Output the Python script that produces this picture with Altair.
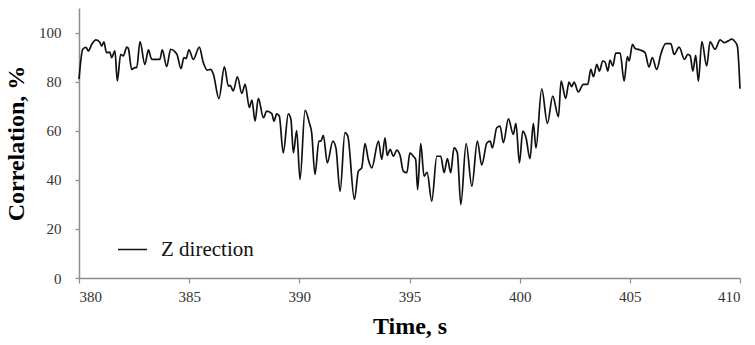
import altair as alt
import pandas as pd

time_s = [
    380.00, 380.17, 380.32, 380.42, 380.58, 380.77, 380.95, 381.03, 381.13, 381.25,
    381.40, 381.48, 381.63, 381.74, 381.89, 382.01, 382.17, 382.24, 382.39, 382.54,
    382.62, 382.77, 382.99, 383.15, 383.30, 383.45, 383.67, 383.78, 383.98, 384.16,
    384.36, 384.45, 384.63, 384.76, 384.86, 384.99, 385.19, 385.46, 385.64, 385.82,
    385.97, 386.10, 386.35, 386.60, 386.78, 386.86, 387.00, 387.19, 387.39, 387.54,
    387.73, 387.85, 387.99, 388.14, 388.37, 388.52, 388.75, 388.85, 388.97, 389.09,
    389.27, 389.50, 389.62, 389.73, 389.88, 390.03, 390.26, 390.45, 390.56, 390.71,
    390.89, 390.98, 391.09, 391.27, 391.52, 391.66, 391.85, 392.07, 392.20, 392.50,
    392.68, 392.83, 392.98, 393.13, 393.29, 393.59, 393.74, 393.89, 393.99, 394.12,
    394.27, 394.42, 394.57, 394.72, 394.88, 395.02, 395.17, 395.28, 395.37, 395.51,
    395.66, 395.80, 396.01, 396.24, 396.42, 396.57, 396.72, 396.87, 397.02, 397.17,
    397.33, 397.57, 397.83, 398.08, 398.28, 398.51, 398.66, 398.76, 398.96, 399.11,
    399.26, 399.49, 399.71, 399.83, 399.99, 400.14, 400.29, 400.47, 400.62, 400.74,
    401.00, 401.26, 401.50, 401.76, 401.88, 402.09, 402.24, 402.36, 402.47, 402.66,
    402.89, 403.09, 403.23, 403.35, 403.50, 403.62, 403.77, 403.88, 404.00, 404.10,
    404.23, 404.36, 404.56, 404.74, 404.89, 404.97, 405.12, 405.24, 405.47, 405.69,
    405.87, 406.02, 406.22, 406.42, 406.63, 406.86, 407.01, 407.24, 407.48, 407.63,
    407.74, 407.86, 407.99, 408.11, 408.27, 408.49, 408.64, 408.87, 409.10, 409.28,
    409.47, 409.62, 409.78, 409.88, 410.00,
]

correlation_pct = [
    81.0, 93.2, 94.0, 92.5, 95.2, 97.0, 95.9, 94.5, 96.2, 91.8,
    92.0, 89.8, 92.5, 80.3, 91.1, 90.5, 94.1, 93.5, 85.0, 85.7,
    85.7, 96.3, 87.0, 92.9, 89.1, 89.1, 89.1, 92.9, 86.1, 93.2,
    92.1, 91.0, 85.3, 89.8, 89.4, 92.9, 89.1, 94.1, 87.8, 84.7,
    85.0, 83.0, 73.1, 86.0, 78.2, 78.5, 76.2, 82.0, 75.2, 78.9,
    69.5, 72.5, 63.9, 73.2, 65.3, 68.0, 67.0, 63.9, 66.9, 66.0,
    51.0, 66.9, 64.6, 51.0, 60.1, 40.1, 68.3, 63.3, 59.2, 42.2,
    55.8, 55.8, 58.1, 46.9, 55.8, 53.0, 35.3, 59.2, 57.8, 32.0,
    43.5, 44.9, 54.8, 48.3, 44.9, 55.8, 48.3, 57.1, 49.9, 52.4,
    49.6, 52.1, 50.0, 43.5, 42.9, 51.0, 49.6, 48.3, 36.0, 54.8,
    41.5, 43.0, 31.3, 49.6, 49.6, 42.9, 48.6, 42.9, 53.0, 51.0,
    29.9, 54.8, 37.4, 55.8, 46.0, 55.0, 55.8, 53.0, 61.2, 61.9,
    55.1, 64.8, 58.5, 63.0, 46.9, 59.8, 57.0, 48.6, 63.0, 53.0,
    77.1, 63.0, 74.1, 65.7, 80.2, 73.2, 79.8, 78.0, 79.8, 75.8,
    78.9, 78.9, 85.0, 82.0, 87.0, 84.3, 88.4, 87.9, 84.3, 88.8,
    86.4, 91.6, 91.6, 80.2, 90.2, 88.4, 95.2, 93.5, 92.9, 91.8,
    86.0, 89.8, 85.0, 91.6, 95.5, 95.5, 91.1, 94.1, 89.1, 91.1,
    90.5, 84.3, 90.7, 80.2, 96.3, 86.4, 96.2, 93.2, 97.0, 95.9,
    96.6, 97.3, 96.2, 94.5, 77.1,
]

series_name = "Z direction"
x_ticks = [380, 385, 390, 395, 400, 405, 410]
y_ticks = [0, 20, 40, 60, 80, 100]

df = pd.DataFrame({"t": time_s, "c": correlation_pct, "s": series_name})

FONT = "Liberation Serif"

chart = (
    alt.Chart(df)
    .mark_line(interpolate="monotone", strokeWidth=1.7)
    .encode(
        x=alt.X(
            "t:Q",
            scale=alt.Scale(domain=[380, 410], nice=False, zero=False),
            axis=alt.Axis(
                title="Time, s",
                values=x_ticks,
                format="d",
                labelPadding=6,
                titlePadding=10,
                tickSize=5,
            ),
        ),
        y=alt.Y(
            "c:Q",
            scale=alt.Scale(domain=[0, 110], nice=False),
            axis=alt.Axis(
                title="Correlation, %",
                values=y_ticks,
                tickSize=4,
                labelPadding=14,
                titlePadding=10,
            ),
        ),
        color=alt.Color(
            "s:N",
            scale=alt.Scale(range=["#111111"]),
            legend=alt.Legend(
                title=None,
                orient="none",
                legendX=38,
                legendY=226,
                symbolType="stroke",
                symbolSize=841,
                symbolStrokeWidth=1.5,
                labelOffset=13,
            ),
        ),
    )
    .properties(
        width=661,
        height=270,
        autosize=alt.AutoSizeParams(type="none"),
        padding={"left": 79, "top": 8, "right": 15, "bottom": 67},
    )
    .configure(background="white", font=FONT)
    .configure_view(stroke="transparent", strokeWidth=0)
    .configure_axis(
        grid=False,
        domainColor="#8c8c8c",
        domainWidth=1.5,
        tickColor="#8c8c8c",
        tickWidth=1.2,
        labelFont=FONT,
        labelFontSize=15,
        labelColor="#333333",
        titleFont=FONT,
        titleFontSize=24,
        titleFontWeight="bold",
        titleColor="#000000",
    )
    .configure_legend(
        labelFont=FONT,
        labelFontSize=21,
        labelColor="#111111",
    )
)

chart.save("out.html", embed_options={"renderer": "svg", "actions": False})
